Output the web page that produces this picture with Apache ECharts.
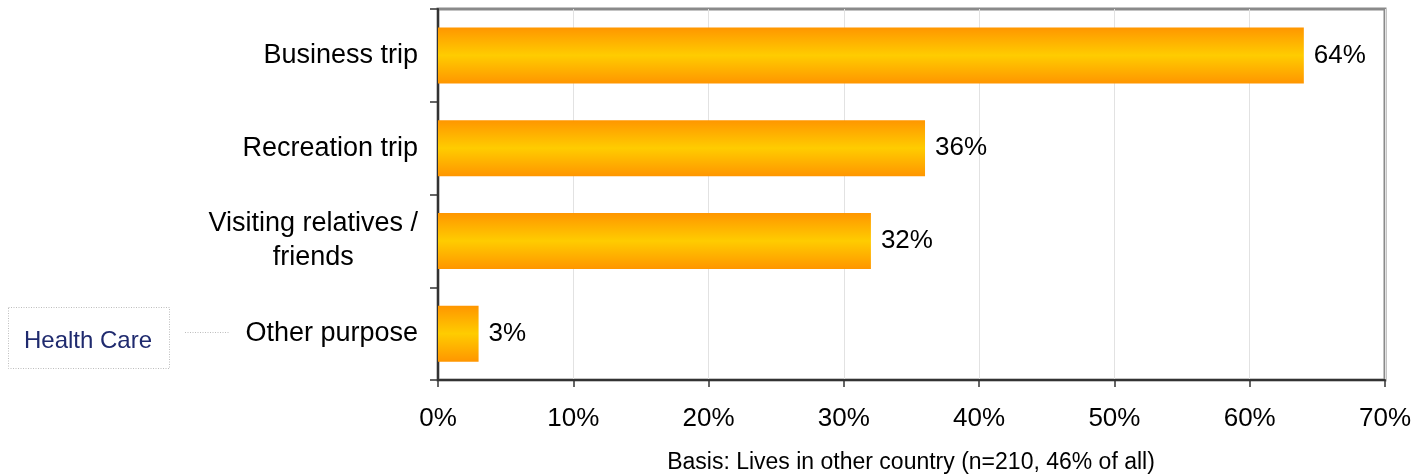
<!DOCTYPE html>
<html>
<head>
<meta charset="utf-8">
<script src="https://cdn.jsdelivr.net/npm/echarts@6/dist/echarts.min.js"></script>
<style>
  html, body { margin: 0; padding: 0; background: #fff; }
  #chart { width: 1416px; height: 475px; }
</style>
</head>
<body>
<div id="chart"></div>
<script>
// Purpose of trips, share of respondents living in another country
const categories = ['Business trip', 'Recreation trip', 'Visiting relatives /\nfriends', 'Other purpose'];
const shares = [64, 36, 32, 3];
const xTicks = [0, 10, 20, 30, 40, 50, 60, 70];
const footnote = 'Basis: Lives in other country (n=210, 46% of all)';
const sideNote = 'Health Care';

const FONT = '"Liberation Sans", Arial, sans-serif';

const barFill = new echarts.graphic.LinearGradient(0, 0, 0, 1, [
  { offset: 0, color: '#FF9600' },
  { offset: 0.5, color: '#FFCC00' },
  { offset: 1, color: '#FF9600' }
]);

const chart = echarts.init(document.getElementById('chart'), null, { renderer: 'canvas' });

chart.setOption({
  animation: false,
  grid: {
    left: 438, right: 31, top: 9, bottom: 95,
    show: true, borderColor: '#8a8a8a', borderWidth: 3
  },
  xAxis: {
    type: 'value',
    min: xTicks[0],
    max: xTicks[xTicks.length - 1],
    interval: 10,
    axisLine: { show: true, onZero: false, lineStyle: { color: '#333', width: 2 } },
    axisTick: { show: true, length: 7, lineStyle: { color: '#333', width: 1.5 } },
    axisLabel: {
      margin: 26, fontSize: 26, color: '#000', fontFamily: FONT,
      formatter: v => v + '%'
    },
    splitLine: { show: true, lineStyle: { color: '#e2e2e2', width: 1 } }
  },
  yAxis: {
    type: 'category',
    inverse: true,
    data: categories,
    axisLine: { show: true, lineStyle: { color: '#333', width: 2 } },
    axisTick: { show: true, length: 8, lineStyle: { color: '#333', width: 1.5 } },
    axisLabel: {
      margin: 20, fontSize: 27, color: '#000', fontFamily: FONT, lineHeight: 34,
      formatter: v => v.split('\n').map(s => '{c|' + s + '}').join('\n'),
      rich: { c: { align: 'center', fontSize: 27, fontFamily: FONT, color: '#000', lineHeight: 34 } }
    }
  },
  series: [{
    type: 'bar',
    data: shares,
    barWidth: 56,
    itemStyle: { color: barFill },
    label: {
      show: true, position: 'right', distance: 10,
      fontSize: 26, color: '#000', fontFamily: FONT,
      formatter: p => p.value + '%'
    }
  }],
  graphic: [
    {
      type: 'rect',
      shape: { x: 8.5, y: 307.5, width: 161, height: 61 },
      style: { fill: 'none', stroke: '#bdbdbd', lineWidth: 1, lineDash: [1, 1.5] }
    },
    {
      type: 'text',
      x: 88, y: 341,
      style: {
        text: sideNote, fill: '#1f2a6e', font: '24px ' + FONT,
        align: 'center', verticalAlign: 'middle'
      }
    },
    {
      type: 'line',
      shape: { x1: 185, y1: 332.5, x2: 230, y2: 332.5 },
      style: { stroke: '#bdbdbd', lineWidth: 1, lineDash: [1, 1.5] }
    },
    {
      type: 'text',
      x: 911, y: 463,
      style: {
        text: footnote, fill: '#000', font: '23px ' + FONT,
        align: 'center', verticalAlign: 'middle'
      }
    }
  ]
});
</script>
</body>
</html>
